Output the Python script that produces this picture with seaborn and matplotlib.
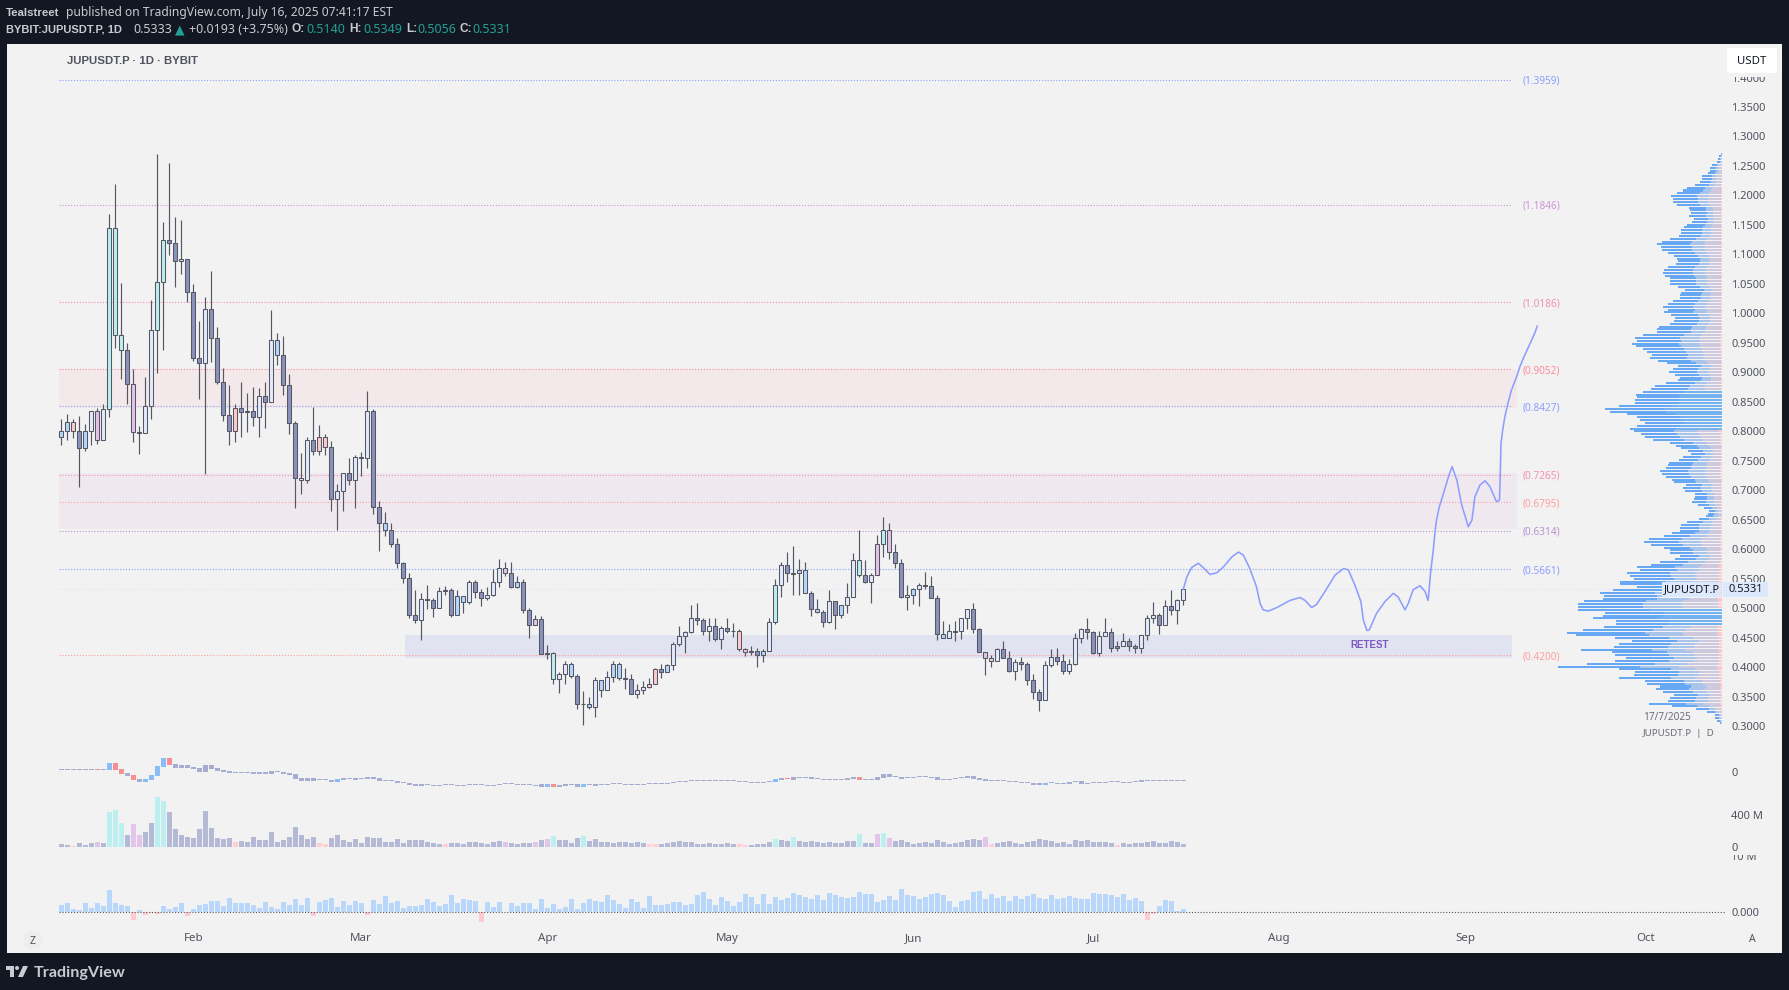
"""JUPUSDT.P daily chart with levels, forecast path, lower panels and volume profile."""

import numpy as np
import pandas as pd
import matplotlib
matplotlib.use("Agg")
import matplotlib.pyplot as plt
import seaborn as sns
from matplotlib.patches import FancyBboxPatch, Rectangle, Circle, Polygon

W, H = 1789, 990

# ── Candles (day 0 = 10 Jan 2025) ─────────────────────────────────────────────
candle_high = [
    .820,.830,.820,.826,.812,.835,.839,.846,1.1685,1.219,
    1.051,.949,.905,.809,.8915,1.023,1.270,1.155,1.255,1.163,
    1.158,1.093,1.050,.987,1.027,1.071,.977,.907,.8785,.847,
    .883,.865,.8745,.873,.883,1.005,.966,.961,.897,.817,
    .763,.791,.841,.810,.795,.783,.710,.730,.754,.759,
    .764,.869,.837,.681,.6625,.644,.619,.579,.559,.530,
    .525,.539,.517,.535,.537,.5335,.531,.520,.548,.547,
    .532,.535,.566,.583,.579,.578,.554,.549,.501,.489,
    .486,.437,.425,.391,.410,.408,.3875,.359,.350,.3825,
    .3775,.394,.410,.408,.398,.3875,.372,.376,.381,.398,
    .406,.406,.442,.469,.4605,.505,.508,.484,.484,.484,
    .469,.4825,.474,.464,.433,.435,.432,.430,.4825,.549,
    .578,.596,.605,.584,.579,.5285,.515,.496,.530,.5115,
    .506,.542,.593,.632,.581,.559,.6235,.654,.644,.608,
    .584,.539,.5335,.542,.561,.554,.522,.478,.4725,.478,
    .484,.498,.508,.466,.425,.420,.433,.4435,.428,.413,
    .4165,.408,.389,.362,.410,.430,.432,.4215,.413,.457,
    .467,.483,.461,.461,.483,.467,.4435,.457,.449,.4385,
    .454,.489,.510,.491,.513,.530,.515,.5349,
]
candle_low = [
    .777,.786,.789,.706,.767,.777,.779,.786,.825,.942,
    .889,.847,.781,.762,.797,.821,.899,.938,1.099,1.045,
    1.066,1.019,.920,.854,.728,.918,.881,.818,.777,.782,
    .791,.799,.8095,.791,.806,.849,.912,.862,.796,.670,
    .694,.713,.759,.759,.759,.665,.633,.664,.709,.670,
    .7235,.738,.660,.597,.623,.604,.568,.543,.484,.474,
    .4465,.499,.4855,.501,.523,.4855,.488,.492,.5075,.517,
    .504,.514,.520,.536,.5545,.5335,.5335,.491,.450,.471,
    .4215,.414,.372,.3565,.372,.381,.329,.302,.328,.316,
    .350,.3605,.375,.3775,.362,.354,.348,.355,.364,.372,
    .382,.391,.3955,.436,.424,.457,.472,.455,.445,.445,
    .431,.458,.4515,.428,.419,.421,.4005,.409,.428,.4725,
    .518,.545,.523,.523,.525,.487,.491,.4685,.474,.465,
    .484,.492,.518,.553,.543,.509,.5555,.587,.583,.568,
    .517,.496,.5075,.504,.532,.517,.4465,.449,.449,.445,
    .448,.4645,.458,.425,.387,.4005,.410,.415,.391,.3785,
    .3955,.370,.345,.326,.3435,.4006,.4035,.388,.388,.403,
    .440,.4475,.4215,.419,.452,.426,.428,.435,.428,.424,
    .424,.446,.475,.4565,.471,.489,.4736,.5056,
]
body_top = [
    .800,.815,.815,.800,.800,.835,.835,.837,1.144,1.144,
    .963,.937,.881,.799,.842,.971,1.054,1.124,1.124,1.120,
    1.093,1.093,1.037,.924,1.007,1.007,.959,.883,.827,.839,
    .839,.834,.834,.859,.859,.954,.954,.930,.878,.8135,
    .720,.785,.785,.790,.790,.774,.698,.730,.730,.756,
    .756,.835,.835,.671,.644,.632,.608,.576,.5505,.489,
    .515,.515,.513,.5285,.531,.530,.520,.520,.544,.544,
    .527,.522,.545,.5675,.5675,.559,.545,.545,.496,.481,
    .481,.423,.423,.389,.4045,.4045,.384,.338,.338,.3775,
    .3775,.3825,.406,.406,.381,.379,.3605,.3655,.372,.396,
    .396,.403,.4385,.452,.459,.4825,.4825,.479,.469,.469,
    .467,.467,.462,.462,.430,.427,.427,.428,.476,.540,
    .5725,.5725,.5595,.564,.564,.525,.498,.493,.5115,.5115,
    .505,.518,.581,.581,.5555,.5555,.608,.632,.632,.596,
    .576,.523,.532,.540,.540,.537,.517,.4555,.4605,.461,
    .484,.498,.498,.464,.425,.415,.430,.430,.415,.408,
    .408,.4045,.3775,.357,.403,.4165,.4165,.410,.405,.449,
    .464,.464,.459,.452,.459,.459,.435,.4435,.4435,.435,
    .454,.484,.488,.488,.503,.503,.513,.5331,
]
body_bot = [
    .791,.800,.800,.771,.771,.800,.786,.786,.837,.963,
    .937,.881,.798,.797,.797,.842,.971,1.054,1.120,1.088,
    1.088,1.037,.924,.915,.915,.959,.883,.827,.800,.800,
    .832,.832,.824,.824,.849,.849,.930,.878,.8135,.720,
    .717,.717,.766,.766,.774,.6845,.6845,.698,.718,.718,
    .754,.754,.671,.644,.632,.608,.576,.5505,.489,.479,
    .479,.513,.501,.501,.5295,.488,.488,.510,.510,.527,
    .517,.517,.522,.545,.559,.535,.535,.496,.471,.471,
    .4215,.4215,.379,.379,.389,.384,.337,.337,.332,.332,
    .3605,.3605,.3825,.381,.380,.354,.354,.3605,.3655,.372,
    .391,.391,.403,.4385,.452,.459,.479,.462,.462,.447,
    .447,.462,.4617,.430,.425,.425,.420,.420,.428,.476,
    .540,.559,.558,.559,.525,.498,.493,.476,.476,.488,
    .488,.505,.518,.5555,.545,.545,.5555,.608,.596,.576,
    .518,.518,.523,.532,.537,.517,.4555,.449,.449,.460,
    .4605,.484,.464,.425,.415,.410,.410,.415,.394,.394,
    .4045,.3775,.357,.3435,.3435,.403,.410,.393,.393,.405,
    .449,.459,.423,.423,.452,.433,.433,.435,.435,.432,
    .432,.454,.484,.471,.471,.496,.496,.5140,
]
candle_kind = (
    "bbpdbwmwcc" "cdmdwwccdd" "bdddwddddp" "dddwdwbddd" "wwdppdwwdw"
    "dwddbddddd" "wddwwdbbwd" "dwwwmdbddm" "ddcwwbddbw" "bwbbddwwpp"
    "dbwwwwddwd" "wddppddbwc" "wddbbdbdwd" "bwwcdwmcmd" "dwbwdddbwd"
    "wwddmpwddw" "ddddwwddww" "wddwwddwdd" "wwwdwdww"
)

# ── Oscillator panel (floating bars) ──────────────────────────────────────────
osc_top = [
    3,3,3,3,3,3,3,3,9,9, 3,-1,-3,-7,-7,-3,6,14,14,8,
    7,7,5,4,7,7,4,2,1,0, 0,0,0,0,0,1,1,0,-1,-2,
    -6,-6,-6,-7,-7,-8,-7,-6,-6,-6, -6,-5,-5,-6,-8,-8,-9,-10,-11,-12,
    -12,-12,-13,-13,-12,-12,-13,-13,-12,-12, -12,-13,-13,-12,-11,-11,-12,-12,-12,-13,
    -12,-12,-12,-13,-12,-12,-12,-12,-12,-12, -12,-12,-11,-11,-12,-12,-12,-12,-11,-11,
    -11,-11,-10,-9,-9,-8,-8,-8,-8,-8, -8,-8,-8,-9,-9,-10,-10,-10,-9,-7,
    -6,-6,-5,-5,-5,-5,-6,-7,-7,-7, -7,-6,-5,-5,-7,-7,-5,-2,-2,-4,
    -5,-5,-5,-4,-4,-5,-5,-7,-7,-6, -5,-4,-4,-6,-7,-8,-8,-8,-9,-9,
    -10,-10,-11,-11,-11,-10,-11,-11,-10,-9, -9,-11,-10,-10,-10,-9,-9,-10,-10,-9,
    -8,-8,-8,-8,-8,-8,-8,-8,
]
osc_bot = [
    2,2,2,2,2,2,2,2,2,2, -2,-4,-8,-10,-10,-8,-4,5,7,4,
    4,4,3,0,0,3,1,0,-1,-1, -1,-1,-2,-2,-2,-2,0,-2,-3,-7,
    -9,-9,-9,-8,-8,-10,-10,-8,-7,-8, -7,-7,-7,-9,-9,-9,-11,-11,-13,-14,
    -14,-13,-14,-14,-13,-13,-14,-14,-13,-13, -13,-14,-14,-13,-12,-12,-13,-13,-13,-14,
    -15,-15,-15,-15,-14,-13,-15,-15,-13,-14, -13,-13,-12,-12,-13,-13,-13,-13,-12,-12,
    -12,-12,-11,-10,-10,-9,-9,-9,-9,-9, -9,-9,-9,-10,-10,-11,-11,-11,-10,-10,
    -8,-7,-8,-6,-6,-7,-7,-8,-8,-8, -8,-8,-7,-8,-8,-8,-8,-6,-5,-5,
    -7,-6,-6,-5,-5,-6,-8,-8,-8,-7, -6,-6,-7,-8,-9,-9,-9,-9,-10,-10,
    -11,-11,-13,-13,-13,-11,-12,-12,-12,-10, -12,-12,-11,-11,-11,-10,-10,-11,-11,-10,
    -10,-9,-9,-9,-9,-9,-9,-9,
]
osc_blue_days = [8, 14, 15, 16, 17, 46, 81, 87, 119, 164]
osc_red_days = [6, 9, 10, 12, 18, 82, 121, 133]

# ── Volume (millions) ─────────────────────────────────────────────────────────
volume_m = [
    38,25,12,50,25,50,62,50,438,462, 300,150,288,150,188,300,625,575,438,225,
    150,125,112,225,450,238,112,100,112,62, 75,62,125,88,88,188,62,88,125,250,
    150,100,125,50,38,112,150,88,62,100, 50,125,112,112,62,62,100,50,88,88,
    88,62,50,38,38,50,50,38,62,62, 50,38,62,75,62,50,38,50,50,62,
    88,100,138,88,88,50,112,138,75,100, 62,62,50,62,62,50,62,50,38,38,
    38,50,62,75,62,62,38,38,50,38, 38,50,38,38,25,25,38,38,62,100,
    88,75,125,75,62,75,62,50,62,50, 50,75,75,162,50,50,162,175,112,75,
    88,62,38,50,62,50,88,62,38,50, 62,88,100,88,125,38,50,62,75,50,
    38,62,75,100,88,75,50,62,38,88, 75,88,62,62,62,50,25,50,38,50,
    50,62,75,50,50,75,62,38,
]
vol_pink_days = [2, 29, 43, 44, 64, 98, 99, 113, 114, 155, 176]
vol_purple_days = [6, 12, 13, 74, 79, 81, 136, 138, 154]
vol_cyan_days = [8, 9, 10, 16, 17, 82, 87, 119, 122, 133, 137]

# ── Lower delta panel (millions) ──────────────────────────────────────────────
delta_m = [
    1.20,1.56,.48,.30,1.56,.66,1.56,1.02,3.90,1.56,
    1.20,1.02,-1.50,.30,-.60,-.18,-.42,1.02,.48,.84,
    1.56,-.78,.48,1.20,1.38,1.92,1.92,1.02,2.46,1.56,
    1.56,1.56,1.20,.66,1.74,.84,.48,1.74,1.20,2.28,
    1.20,2.46,-.78,1.74,2.10,2.46,.84,1.92,1.20,1.92,
    1.56,-.60,2.10,1.38,2.82,1.56,1.92,.66,1.02,1.02,
    1.20,2.28,1.74,1.02,1.38,3.00,1.56,2.28,2.10,1.92,
    -1.86,1.74,.84,1.74,0,1.56,1.02,1.56,1.56,.48,
    2.28,.66,1.38,.48,.84,2.28,.48,1.56,2.28,1.92,
    1.74,3.00,2.10,1.38,.66,2.28,1.74,.66,2.82,1.20,
    1.20,1.38,1.74,1.74,1.20,1.38,3.00,3.54,2.28,1.20,
    2.64,1.92,1.02,1.74,3.18,2.64,1.38,3.18,1.38,2.64,
    2.10,2.46,3.36,3.00,2.64,2.28,3.00,2.10,3.36,3.00,
    2.64,2.46,2.64,3.54,3.18,3.18,1.74,2.10,2.82,2.10,
    4.08,3.00,2.82,2.28,2.64,3.18,3.36,3.00,1.92,.84,
    1.92,2.10,3.54,3.72,2.28,3.18,2.46,2.82,1.92,2.82,
    2.28,2.82,3.18,2.46,2.28,3.00,2.28,2.46,2.82,2.46,
    2.28,2.28,3.36,3.18,3.18,3.00,2.64,3.18,2.10,2.46,
    1.92,-1.50,-.42,1.02,2.10,1.92,.12,.48,
]

# ── Drawn forecast path ───────────────────────────────────────────────────────
path_day = [
    187.0,187.6,188.4,189.5,190.3,191.45,192.6,193.7,195.1,196.2,197.0,198.1,
    199.2,199.8,200.3,201.2,202.6,204.8,206.45,207.3,208.4,209.2,210.6,212.3,
    213.7,214.5,215.6,216.6,217.0,217.6,218.0,219.2,220.6,222.0,222.8,223.95,
    224.5,225.3,226.45,227.3,227.8,227.98,228.2,228.4,228.67,228.95,229.2,229.67,
    230.2,231.2,231.8,232.6,233.4,234.5,235.1,235.6,236.45,237.3,238.1,239.2,
    239.7,239.84,239.95,240.23,240.6,241.17,241.7,242.56,243.1,243.67,244.8,245.6,
    246.0,
]
path_price = [
    .532,.553,.569,.576,.569,.557,.560,.570,.587,.595,.590,.567,
    .536,.508,.497,.495,.501,.513,.518,.513,.501,.506,.528,.556,
    .567,.565,.539,.511,.480,.462,.463,.491,.511,.525,.519,.497,
    .508,.531,.538,.528,.513,.532,.559,.576,.5985,.6296,.649,.672,
    .689,.723,.740,.717,.675,.638,.649,.689,.709,.716,.706,.6805,
    .683,.7343,.7795,.802,.825,.850,.870,.8926,.9096,.9237,.949,.967,
    .9786,
]

# ── Levels, zones, ticks ──────────────────────────────────────────────────────
level_price = [1.3959, 1.1846, 1.0186, .9052, .8427, .7265, .6795, .6314, .5661, .4200]
level_color = ["#8C9EFF", "#CE93D8", "#F48FB1", "#FF8A9E", "#8C9EFF",
               "#F48FB1", "#FF9E9E", "#BA8FD0", "#8C9EFF", "#FF9E9E"]
price_ticks = [.30, .35, .40, .45, .50, .55, .60, .65, .70, .75, .80, .85, .90, .95,
               1.00, 1.05, 1.10, 1.15, 1.20, 1.25, 1.30, 1.35, 1.40]
month_ticks = [22, 50, 81, 111, 142, 172, 203, 234, 264]
month_names = ["Feb", "Mar", "Apr", "May", "Jun", "Jul", "Aug", "Sep", "Oct"]
last_price = 0.5331

# ── Volume profile, top row to bottom row, relative length ────────────────────
profile_len = [
    1,3,4,5,10,12,12,14,20,20, 22,27,35,39,45,51,49,49,45,33,
    32,31,33,28,30,35,38,41,41,43, 52,60,65,61,60,54,48,45,44,46,
    54,58,59,57,52,52,52,44,37,41, 42,42,49,54,59,54,58,51,47,48,
    52,63,65,65,79,87,85,90,86,79, 75,70,72,64,55,44,49,53,47,42,
    44,56,67,71,
    79,86,85,87,87,103,117,112,95,85, 82,77,85,92,88,81,77,69,52,46,
    41,34,31,39,43,53,54,56,62,60, 56,50,48,36,39,37,27,27,28,30,
    24,18,13,14,16,23,35,41,42,42, 50,58,73,78,71,58,52,52,42,47,
    62,71,85,82,95,92,88,102,102,85, 109,122,118,119,138,144,144,144,117,119,
    129,106,106,118,139,155,146,107,90,103, 108,141,110,107,96,107,135,164,103,87,
    88,103,77,75,62,66,59,48,52,54, 73,50,26,15,7,7,5,2,
]
profile_top_price, profile_bottom_price = 1.2709, 0.3045
# price floor of each band and the share of each row in the four tones
band_floor = [1.00, .87, .80, .50, .47, .30]
band_blue = [.50, .52, .50, .45, .50, .50]
band_mid = [.22, .22, .50, .27, .50, .24]
band_grey = [.26, .24, .00, .25, .00, .23]
band_pink = [.02, .02, .00, .03, .00, .03]
band_mid_color = ["#A9C4EA", "#A9C4EA", "#74B2F2", "#A9C4EA", "#74B2F2", "#A9C4EA"]

BG = "#F2F2F2"
FRAME = "#131722"
TEXT = "#50535E"
CANDLE_EDGE = "#555864"
CANDLE_FILL = {"d": "#8A92BC", "w": "#E1E9FB", "b": "#B3D6FB",
               "p": "#FFC9CB", "m": "#E3C3E8", "c": "#B9EFEE"}

sns.set_theme(style="white", rc={"axes.edgecolor": BG, "text.color": TEXT,
                                 "xtick.color": TEXT, "ytick.color": TEXT})
plt.rcParams["font.family"] = ["Noto Sans", "DejaVu Sans"]

fig = plt.figure(figsize=(W / 100, H / 100), dpi=100, facecolor=FRAME)


def px_axes(left, top, right, bottom, z=1):
    a = fig.add_axes([left / W, 1 - bottom / H, (right - left) / W, (bottom - top) / H], zorder=z)
    a.patch.set_alpha(0)
    sns.despine(ax=a, left=True, bottom=True)
    return a


def px_layer(z):
    a = fig.add_axes([0, 0, 1, 1], zorder=z)
    a.set_xlim(0, W)
    a.set_ylim(H, 0)
    a.axis("off")
    return a


# day d sits at pixel 61.3 + 6 d; price p at pixel 726 - 589.5 (p - 0.3)
XLIM = ((7 - 61.3) / 6, (1725 - 61.3) / 6)
price_at = lambda y: 0.3 + (726 - y) / 589.5

bg_layer = px_layer(-1)
bg_layer.add_patch(Rectangle((7, 44), 1775, 909, color=BG, lw=0))

# ── Price panel ───────────────────────────────────────────────────────────────
ax = px_axes(7, 44, 1725, 745, z=1)
days = np.arange(len(candle_high))

zone_left, zone_right, retest_left, level_right = -0.3, 242.7, 57.2, 241.8
ax.fill_between([zone_left, zone_right], .8400, .9052, color="#F3E9EA", lw=0, zorder=1)
ax.fill_between([zone_left, zone_right], .6340, .7286, color="#EFE9EF", lw=0, zorder=1)
ax.fill_between([retest_left, level_right], .4160, .4544, color="#E2E3F1", lw=0, zorder=1)

for value, color in zip(level_price, level_color):
    ax.hlines(value, zone_left, level_right, color=color, lw=0.8, ls=(0, (1, 1.6)), zorder=2)
    ax.text(243.6, value - 0.0025, f"({value:.4f})", color=color, fontsize=7.2, va="center", ha="left")
ax.hlines(last_price, zone_left, XLIM[1], color="#E3E6F8", lw=0.8, ls=(0, (1, 1.6)), zorder=2)

ax.vlines(days, candle_low, candle_high, color=CANDLE_EDGE, lw=0.85, zorder=3)
ax.bar(days, np.array(body_top) - np.array(body_bot), bottom=body_bot, width=0.66,
       color=[CANDLE_FILL[k] for k in candle_kind], edgecolor=CANDLE_EDGE, linewidth=0.75, zorder=4)

sns.lineplot(x=path_day, y=path_price, sort=False, estimator=None, color="#8C9EFF", lw=1.15,
             solid_joinstyle="round", ax=ax, zorder=5)
ax.text(218.1, .4375, "RETEST", family="Liberation Sans", color="#7E57C2", fontsize=7,
        fontweight="bold", ha="center", va="center")

ax.set_xlim(*XLIM)
ax.set_ylim(price_at(745), price_at(44))
ax.set_xticks([])
ax.yaxis.tick_right()
ax.set_yticks(price_ticks, [f"{t:.4f}" for t in price_ticks])
ax.tick_params(axis="y", length=0, pad=4.5, labelsize=8)
ax.set_xlabel("")
ax.set_ylabel("")

# ── Volume profile, drawn from the right edge ─────────────────────────────────
ax_vp = px_axes(7, 44, 1725, 745, z=2)
profile_len = np.array(profile_len, dtype=float)
profile_price = np.linspace(profile_top_price, profile_bottom_price, len(profile_len))
band_of_row = [next(i for i, f in enumerate(band_floor) if p >= f) for p in profile_price]
share = lambda band: np.array([band[b] for b in band_of_row])
start = np.zeros(len(profile_len))
for band, colors in [(band_pink, ["#FFC9CB"] * 6), (band_grey, ["#CFC9DE"] * 6),
                     (band_mid, band_mid_color), (band_blue, ["#66A8F4"] * 6)]:
    seg = profile_len * share(band)
    ax_vp.barh(profile_price, seg, left=start, height=0.0034,
               color=[colors[b] for b in band_of_row], lw=0)
    start = start + seg
ax_vp.set_xlim(1715, -3)
ax_vp.set_ylim(price_at(745), price_at(44))
ax_vp.set_xticks([])
ax_vp.set_yticks([])

# ── Oscillator ────────────────────────────────────────────────────────────────
ax_osc = px_axes(7, 745, 1725, 790, z=1)
osc_colors = ["#A7ADD0"] * len(days)
for d in osc_blue_days:
    osc_colors[d] = "#8ABCF7"
for d in osc_red_days:
    osc_colors[d] = "#F78E92"
ax_osc.bar(days, np.array(osc_top) - np.array(osc_bot), bottom=osc_bot, width=0.83,
           color=osc_colors, lw=0)
ax_osc.set_xlim(*XLIM)
ax_osc.set_ylim(-18, 27)
ax_osc.set_xticks([])
ax_osc.yaxis.tick_right()
ax_osc.set_yticks([0], ["0"])
ax_osc.tick_params(axis="y", length=0, pad=4.5, labelsize=8)

# ── Volume ────────────────────────────────────────────────────────────────────
vol_kind = ["d"] * len(days)
for group, kind in [(vol_pink_days, "p"), (vol_purple_days, "m"), (vol_cyan_days, "c")]:
    for d in group:
        vol_kind[d] = kind
vol_df = pd.DataFrame({"day": days, "vol": volume_m, "kind": vol_kind})
ax_vol = px_axes(7, 790, 1725, 847, z=3)
sns.barplot(data=vol_df, x="day", y="vol", hue="kind", dodge=False, native_scale=True,
            palette={"d": "#B4B9D6", "p": "#FFCFD2", "m": "#E3C4EA", "c": "#BDEEF0"},
            width=0.83, saturation=1, linewidth=0, errorbar=None, legend=False, ax=ax_vol)
ax_vol.patch.set_alpha(0)
ax_vol.set_xlim(*XLIM)
ax_vol.set_ylim(0, 712.5)
ax_vol.set_xticks([])
ax_vol.set_xlabel("")
ax_vol.set_ylabel("")
ax_vol.yaxis.tick_right()
ax_vol.set_yticks([0, 400], ["0", "400 M"])
ax_vol.tick_params(axis="y", length=0, pad=4.5, labelsize=8)

# hides the top of the "10 M" label, as the panel above does in the original
cover = px_axes(1726, 847, 1776, 855, z=2)
cover.patch.set_alpha(1)
cover.patch.set_facecolor(BG)
cover.set_xticks([])
cover.set_yticks([])

# ── Delta ─────────────────────────────────────────────────────────────────────
delta_df = pd.DataFrame({"day": days, "delta": delta_m})
delta_df["side"] = np.where(delta_df["delta"] < 0, "neg", "pos")
ax_delta = px_axes(7, 848, 1725, 928, z=1)
sns.barplot(data=delta_df, x="day", y="delta", hue="side", dodge=False, native_scale=True,
            palette={"pos": "#B8D7FA", "neg": "#FFCACD"}, width=0.83, saturation=1, linewidth=0,
            errorbar=None, legend=False, ax=ax_delta)
ax_delta.patch.set_alpha(0)
ax_delta.hlines(0, -0.3, XLIM[1], color="#555864", lw=0.8, ls=(0, (1, 1.6)), zorder=5)
ax_delta.set_xlim(*XLIM)
ax_delta.set_ylim(-2.88, 11.52)
ax_delta.set_xticks(month_ticks, month_names)
ax_delta.set_xlabel("")
ax_delta.set_ylabel("")
ax_delta.yaxis.tick_right()
ax_delta.set_yticks([0, 10], ["0.000", "10 M"])
ax_delta.tick_params(axis="y", length=0, pad=4.5, labelsize=8)
ax_delta.tick_params(axis="x", length=0, pad=3.6, labelsize=8.3)

# ── Chrome: header, tags, footer ──────────────────────────────────────────────
ui = px_layer(10)
LIGHT = "#C8CBD2"
TEAL = "#22A094"
BOLD = "Liberation Sans"


def label(x, y, s, **kw):
    kw.setdefault("fontsize", 8)
    kw.setdefault("va", "center")
    ui.text(x, y, s, **kw)


label(6, 12.5, "Tealstreet", color=LIGHT, fontweight="bold", family=BOLD, fontsize=8.2)
label(66, 12.5, "published on TradingView.com, July 16, 2025 07:41:17 EST", color=LIGHT, fontsize=8.7)
label(6, 29.5, "BYBIT:JUPUSDT.P, 1D", color=LIGHT, fontweight="bold", family=BOLD, fontsize=8)
label(133, 29.5, "0.5333", color=LIGHT, fontsize=9)
label(175, 29.5, "▲", color=TEAL, fontsize=9)
label(189, 29.5, "+0.0193 (+3.75%)", color=LIGHT, fontsize=9)
for x_key, key, x_val, val in [(292, "O:", 306, "0.5140"), (349, "H:", 363, "0.5349"),
                               (406, "L:", 417, "0.5056"), (460, "C:", 472, "0.5331")]:
    label(x_key, 29.5, key, color=LIGHT, fontweight="bold", family=BOLD, fontsize=8.6)
    label(x_val, 29.5, val, color=TEAL, fontsize=9)

label(67, 60.5, "JUPUSDT.P · 1D · BYBIT", color=TEXT, fontweight="bold", family=BOLD, fontsize=8.2)

ui.add_patch(Rectangle((1727, 72), 50, 4.5, fc=BG, lw=0))
ui.add_patch(FancyBboxPatch((1727, 48), 50, 25, boxstyle="round,pad=0,rounding_size=2.5", fc="white", lw=0))
label(1752, 61, "USDT", color="#131722", ha="center", fontsize=8.2)

ui.add_patch(Rectangle((1662, 582), 59, 15, fc="#DCE8FB", lw=0))
ui.add_patch(Rectangle((1723, 582), 45, 15, fc="#DCE8FB", lw=0))
label(1691.5, 590, "JUPUSDT.P", color="#131722", ha="center", fontsize=8)
label(1745.5, 590, "0.5331", color="#131722", ha="center", fontsize=8)

label(1643, 718, "17/7/2025", color="#6B6E78", fontsize=7.2)
label(1643, 734, "JUPUSDT.P  |  D", color="#6B6E78", fontsize=7)

ui.add_patch(Circle((33, 940), 9.5, fc="#EDEDED", lw=0))
label(33, 941, "Z", color=TEXT, ha="center", fontsize=7.5)
label(1752, 940, "A", color=TEXT, ha="center", fontsize=7.5)

# TradingView mark and wordmark
ui.add_patch(Polygon([(6, 966), (14, 966), (14, 977), (10, 977), (10, 970), (6, 970)], fc=LIGHT, lw=0))
ui.add_patch(Circle((17, 968), 2, fc=LIGHT, lw=0))
ui.add_patch(Polygon([(23, 966), (28, 966), (23, 977), (18, 977)], fc=LIGHT, lw=0))
label(34, 973, "TradingView", color=LIGHT, fontsize=11.6, fontweight="bold", family="Lato")

fig.savefig("out.png", dpi=100, facecolor=fig.get_facecolor())
